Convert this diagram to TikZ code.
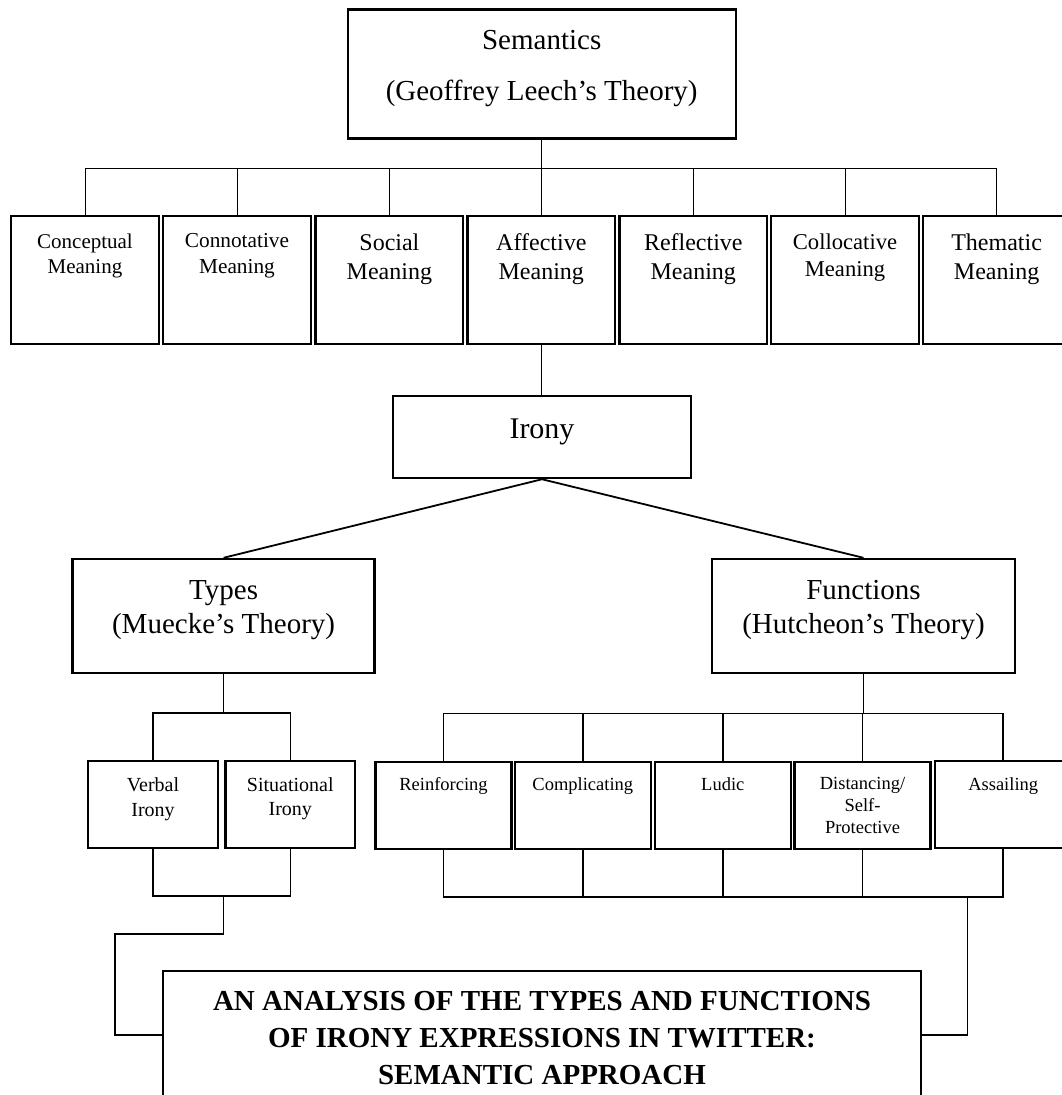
\documentclass[tikz,border=0pt]{standalone}
\usepackage{fontspec}
\setmainfont{Liberation Serif}
\begin{document}
\begin{tikzpicture}[x=1pt,y=-1pt,
  bx/.style={draw, line width=2.4pt, inner sep=0pt, rectangle},
  txt/.style={anchor=north, inner sep=0pt, align=center},
  cthin/.style={line width=1pt},
  cmid/.style={line width=1.6pt},
  cdiag/.style={line width=1.8pt}]
\clip (0,0) rectangle (1062,1095);
% ---------- boxes ----------
\node[bx, minimum width=388pt, minimum height=129pt] (sem) at (541.7,73.8) {};
\node[bx, minimum width=147.5pt, minimum height=128pt] (c1) at (85,280) {};
\node[bx, minimum width=147.5pt, minimum height=128pt] (c2) at (237,280) {};
\node[bx, minimum width=147.5pt, minimum height=128pt] (c3) at (389.4,280) {};
\node[bx, minimum width=147.5pt, minimum height=128pt] (c4) at (541.3,280) {};
\node[bx, minimum width=147.5pt, minimum height=128pt] (c5) at (693.3,280) {};
\node[bx, minimum width=147.5pt, minimum height=128pt] (c6) at (845,280) {};
\node[bx, minimum width=147.5pt, minimum height=128pt] (c7) at (996.6,280) {};
\node[bx, minimum width=298pt, minimum height=82.3pt] (irony) at (542,436.9) {};
\node[bx, minimum width=302pt, minimum height=114pt] (types) at (223.6,616) {};
\node[bx, minimum width=303pt, minimum height=114pt] (func) at (863.5,616) {};
\node[bx, minimum width=130pt, minimum height=87pt] (verbal) at (153,804.5) {};
\node[bx, minimum width=129.4pt, minimum height=87pt] (sit) at (290.3,804.5) {};
\node[bx, minimum width=136pt, minimum height=87pt] (r1) at (443.5,805.5) {};
\node[bx, minimum width=136pt, minimum height=87pt] (r2) at (582.8,805.5) {};
\node[bx, minimum width=136pt, minimum height=87pt] (r3) at (722.8,805.5) {};
\node[bx, minimum width=136pt, minimum height=87pt] (r4) at (862.5,805.5) {};
\node[bx, minimum width=136pt, minimum height=87pt] (r5) at (1003.2,804.3) {};
\node[bx, line width=2pt, minimum width=758.8pt, minimum height=144pt] (main) at (542,1043) {};
% ---------- texts ----------
\node[txt, font=\fontsize{29}{51}\selectfont] (tsem) at (541.7,30) {Semantics\\(Geoffrey Leech’s Theory)};
\node[txt, font=\fontsize{21}{25.5}\selectfont] (tc1) at (85,233.5) {Conceptual\\Meaning};
\node[txt, font=\fontsize{21.3}{25.5}\selectfont] (tc2) at (237,233.5) {Connotative\\Meaning};
\node[txt, font=\fontsize{24}{28.8}\selectfont] (tc3) at (389.4,233.5) {Social\\Meaning};
\node[txt, font=\fontsize{24}{28.8}\selectfont] (tc4) at (541.3,233.5) {Affective\\Meaning};
\node[txt, font=\fontsize{24}{28.8}\selectfont] (tc5) at (693.3,233.5) {Reflective\\Meaning};
\node[txt, font=\fontsize{22.6}{27}\selectfont] (tc6) at (845,233.5) {Collocative\\Meaning};
\node[txt, font=\fontsize{24}{28.8}\selectfont] (tc7) at (996.6,233.5) {Thematic\\Meaning};
\node[txt, font=\fontsize{30}{36}\selectfont] (tirony) at (542,418.3) {Irony};
\node[txt, font=\fontsize{29}{33.5}\selectfont] (ttypes) at (223.6,580.5) {Types\\(Muecke’s Theory)};
\node[txt, font=\fontsize{29}{33.5}\selectfont] (tfunc) at (863.5,580.5) {Functions\\(Hutcheon’s Theory)};
\node[txt, font=\fontsize{20}{25}\selectfont] (tverbal) at (153,777.3) {Verbal\\Irony};
\node[txt, font=\fontsize{20}{24}\selectfont] (tsit) at (290.3,777.3) {Situational\\Irony};
\node[txt, font=\fontsize{18.5}{22}\selectfont] (tr1) at (443.5,777.5) {Reinforcing};
\node[txt, font=\fontsize{18.5}{22}\selectfont] (tr2) at (582.8,777) {Complicating};
\node[txt, font=\fontsize{18.5}{22}\selectfont] (tr3) at (722.8,777.5) {Ludic};
\node[txt, font=\fontsize{18.5}{22}\selectfont] (tr4) at (862.5,777.5) {Distancing/\\Self-\\Protective};
\node[txt, font=\fontsize{18.5}{22}\selectfont] (tr5) at (1003.2,777.5) {Assailing};
\node[txt, font=\bfseries\fontsize{29}{37}\selectfont] (tmain) at (542,990.7) {AN ANALYSIS OF THE TYPES AND FUNCTIONS\\OF IRONY EXPRESSIONS IN TWITTER:\\SEMANTIC APPROACH};
% ---------- connectors ----------
\coordinate (tb) at (0,168);
\draw[cthin] (sem.south) -- (sem.south |- tb);
\draw[cthin] (c1.north) -- (c1.north |- tb) -- (c7.north |- tb) -- (c7.north);
\foreach \n in {c2,c3,c4,c5,c6} \draw[cthin] (\n.north) -- (\n.north |- tb);
\draw[line width=1.2pt] (c4.south) -- (c4.south |- irony.north);
\draw[cdiag] (irony.south) -- (types.north);
\draw[cdiag] (irony.south) -- (func.north);
% types side
\coordinate (vb) at (0,713);
\coordinate (vbb) at (0,896);
\coordinate (ml) at (0,1035);
\coordinate (lj1) at (223.6,934);
\coordinate (lj2) at (115,934);
\coordinate (lj3) at (115,1035);
\draw[cmid] (types.south) -- (types.south |- vb);
\draw[cmid] (verbal.north) -- (verbal.north |- vb) -- (sit.north |- vb) -- (sit.north);
\draw[cmid] (verbal.south) -- (verbal.south |- vbb) -- (sit.south |- vbb) -- (sit.south);
\draw[cmid] (types.south |- vbb) -- (lj1) -- (lj2) -- (lj3) -- (main.west |- ml);
% functions side
\coordinate (fb) at (0,713.3);
\coordinate (fbb) at (0,896.7);
\coordinate (fbb2) at (0,897.6);
\coordinate (rj) at (967.5,896.7);
\coordinate (rj2) at (967.5,1035);
\draw[cmid] (func.south) -- (func.south |- fb);
\draw[cmid] (r1.north) -- (r1.north |- fb) -- (r5.north |- fb) -- (r5.north);
\foreach \n in {r2,r3,r4} \draw[cmid] (\n.north) -- (\n.north |- fb);
\draw[cmid] (r1.south) -- (r1.south |- fbb) -- (r5.south |- fbb) -- (r5.south);
\foreach \n in {r2,r3,r4} \draw[cmid] (\n.south) -- (\n.south |- fbb);
\draw[cmid] (r3.south |- fbb2) -- (r5.south |- fbb2);
\draw[cmid] (rj) -- (rj2) -- (main.east |- ml);
\end{tikzpicture}
\end{document}
